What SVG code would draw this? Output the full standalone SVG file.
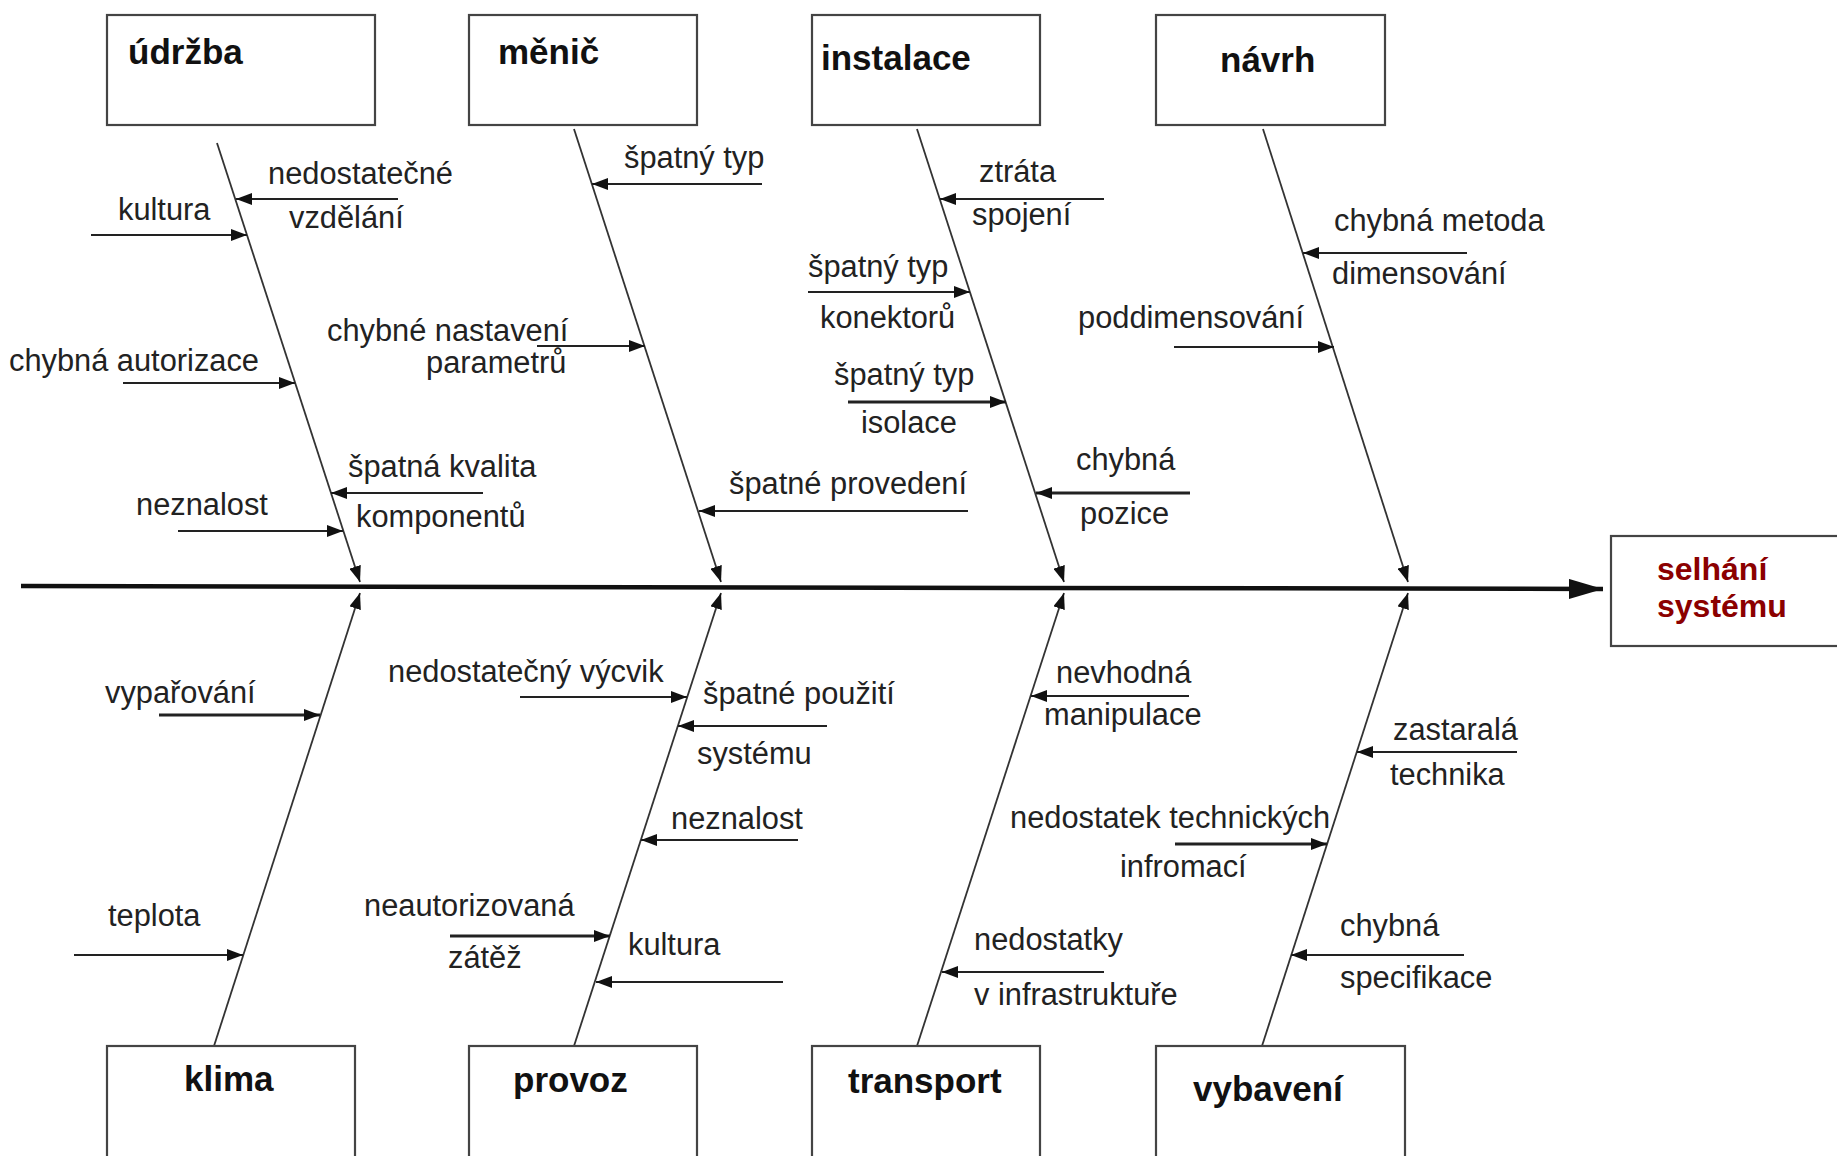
<svg xmlns="http://www.w3.org/2000/svg" width="1837" height="1156" viewBox="0 0 1837 1156">
<style>
.box{fill:#fff;stroke:#444;stroke-width:2.2}
.cat{font-family:"Liberation Sans",Arial,sans-serif;font-weight:bold;font-size:35px;fill:#111}
.res{font-family:"Liberation Sans",Arial,sans-serif;font-weight:bold;font-size:32px;fill:#8b0000}
.lbl{font-family:"Liberation Sans",Arial,sans-serif;font-size:30.8px;fill:#222}
.bone{fill:none;stroke:#333;stroke-width:1.8;marker-end:url(#ah)}
.sub{fill:none;stroke:#222;stroke-width:2;marker-end:url(#ah)}
.subb{fill:none;stroke:#222;stroke-width:3.2;marker-end:url(#ah)}
.main{fill:none;stroke:#111;stroke-width:4.5;marker-end:url(#ahm)}
</style>
<defs>
<marker id="ah" markerUnits="userSpaceOnUse" markerWidth="16" markerHeight="12" refX="16" refY="6" orient="auto"><path d="M0,0 L16,6 L0,12 z" fill="#111"/></marker>
<marker id="ahm" markerUnits="userSpaceOnUse" markerWidth="34" markerHeight="20" refX="34" refY="10" orient="auto"><path d="M0,0 L34,10 L0,20 z" fill="#111"/></marker>
</defs>
<rect width="1837" height="1156" fill="#fff"/>

<g id="connectors">
<path class="main" d="M21,586 L1603,589"/>
<path class="bone" d="M217,143 L360,582"/>
<path class="bone" d="M574,129 L721,582"/>
<path class="bone" d="M917,129 L1064,582"/>
<path class="bone" d="M1263,129 L1408,582"/>
<path class="bone" d="M214,1046 L360,593"/>
<path class="bone" d="M574,1046 L721,593"/>
<path class="bone" d="M917,1046 L1064,593"/>
<path class="bone" d="M1262,1046 L1408,593"/>

<path class="sub" d="M398,199 L236,199"/>
<path class="sub" d="M91,235 L247,235"/>
<path class="sub" d="M123,383 L295,383"/>
<path class="sub" d="M483,493 L331,493"/>
<path class="sub" d="M178,531 L343,531"/>
<path class="sub" d="M762,184 L592,184"/>
<path class="sub" d="M537,346 L645,346"/>
<path class="sub" d="M968,511 L699,511"/>
<path class="sub" d="M1104,199 L940,199"/>
<path class="sub" d="M808,292 L970,292"/>
<path class="subb" d="M848,402 L1006,402"/>
<path class="subb" d="M1190,493 L1036,493"/>
<path class="sub" d="M1467,253 L1303,253"/>
<path class="sub" d="M1174,347 L1334,347"/>
<path class="subb" d="M159,715 L320,715"/>
<path class="sub" d="M74,955 L243,955"/>
<path class="sub" d="M520,697 L687,697"/>
<path class="sub" d="M827,726 L678,726"/>
<path class="sub" d="M798,840 L641,840"/>
<path class="subb" d="M450,936 L610,936"/>
<path class="sub" d="M783,982 L596,982"/>
<path class="sub" d="M1189,696 L1031,696"/>
<path class="subb" d="M1175,844 L1327,844"/>
<path class="sub" d="M1104,972 L942,972"/>
<path class="sub" d="M1517,752 L1357,752"/>
<path class="sub" d="M1464,955 L1291,955"/>
</g>

<g id="udrzba"><rect class="box" x="107" y="15" width="268" height="110"/><text class="cat" x="128" y="64">údržba</text></g>
<g id="menic"><rect class="box" x="469" y="15" width="228" height="110"/><text class="cat" x="498" y="64">měnič</text></g>
<g id="instalace"><rect class="box" x="812" y="15" width="228" height="110"/><text class="cat" x="821" y="70">instalace</text></g>
<g id="navrh"><rect class="box" x="1156" y="15" width="229" height="110"/><text class="cat" x="1220" y="72">návrh</text></g>
<g id="klima"><rect class="box" x="107" y="1046" width="248" height="115"/><text class="cat" x="184" y="1091">klima</text></g>
<g id="provoz"><rect class="box" x="469" y="1046" width="228" height="115"/><text class="cat" x="513" y="1092">provoz</text></g>
<g id="transport"><rect class="box" x="812" y="1046" width="228" height="115"/><text class="cat" x="848" y="1093">transport</text></g>
<g id="vybaveni"><rect class="box" x="1156" y="1046" width="249" height="115"/><text class="cat" x="1193" y="1101">vybavení</text></g>
<g id="selhani"><rect class="box" x="1611" y="536" width="230" height="110"/><text class="res" x="1657" y="580">selhání</text><text class="res" x="1657" y="617">systému</text></g>

<g id="labels">
<text class="lbl" x="268" y="184">nedostatečné</text>
<text class="lbl" x="289" y="228">vzdělání</text>
<text class="lbl" x="118" y="220">kultura</text>
<text class="lbl" x="9" y="371">chybná autorizace</text>
<text class="lbl" x="348" y="477">špatná kvalita</text>
<text class="lbl" x="356" y="527">komponentů</text>
<text class="lbl" x="136" y="515">neznalost</text>
<text class="lbl" x="624" y="168">špatný typ</text>
<text class="lbl" x="327" y="341">chybné nastavení</text>
<text class="lbl" x="426" y="373">parametrů</text>
<text class="lbl" x="729" y="494">špatné provedení</text>
<text class="lbl" x="979" y="182">ztráta</text>
<text class="lbl" x="972" y="225">spojení</text>
<text class="lbl" x="808" y="277">špatný typ</text>
<text class="lbl" x="820" y="328">konektorů</text>
<text class="lbl" x="834" y="385">špatný typ</text>
<text class="lbl" x="861" y="433">isolace</text>
<text class="lbl" x="1076" y="470">chybná</text>
<text class="lbl" x="1080" y="524">pozice</text>
<text class="lbl" x="1334" y="231">chybná metoda</text>
<text class="lbl" x="1332" y="284">dimensování</text>
<text class="lbl" x="1078" y="328">poddimensování</text>
<text class="lbl" x="105" y="703">vypařování</text>
<text class="lbl" x="108" y="926">teplota</text>
<text class="lbl" x="388" y="682">nedostatečný výcvik</text>
<text class="lbl" x="703" y="704">špatné použití</text>
<text class="lbl" x="697" y="764">systému</text>
<text class="lbl" x="671" y="829">neznalost</text>
<text class="lbl" x="364" y="916">neautorizovaná</text>
<text class="lbl" x="448" y="968">zátěž</text>
<text class="lbl" x="628" y="955">kultura</text>
<text class="lbl" x="1056" y="683">nevhodná</text>
<text class="lbl" x="1044" y="725">manipulace</text>
<text class="lbl" x="1010" y="828">nedostatek technických</text>
<text class="lbl" x="1120" y="877">infromací</text>
<text class="lbl" x="974" y="950">nedostatky</text>
<text class="lbl" x="974" y="1005">v infrastruktuře</text>
<text class="lbl" x="1393" y="740">zastaralá</text>
<text class="lbl" x="1390" y="785">technika</text>
<text class="lbl" x="1340" y="936">chybná</text>
<text class="lbl" x="1340" y="988">specifikace</text>
</g>
</svg>
